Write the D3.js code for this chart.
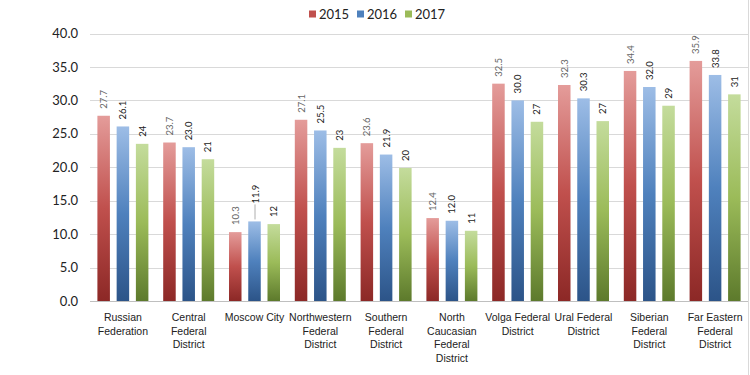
<!DOCTYPE html>
<html>
<head>
<meta charset="utf-8">
<script src="https://cdn.jsdelivr.net/npm/d3@7"></script>
<style>
  body { margin: 0; background: #fff; }
  svg { display: block; font-family: Lato, "Liberation Sans", sans-serif; }
</style>
</head>
<body>
<div id="chart"></div>
<script>
// data
const categories = ["Russian Federation", "Central Federal District", "Moscow City",
  "Northwestern Federal District", "Southern Federal District", "North Caucasian Federal District",
  "Volga Federal District", "Ural Federal District", "Siberian Federal District", "Far Eastern Federal District"];
const categoryLines = [["Russian", "Federation"], ["Central", "Federal", "District"], ["Moscow City"],
  ["Northwestern", "Federal", "District"], ["Southern", "Federal", "District"], ["North", "Caucasian", "Federal", "District"],
  ["Volga Federal", "District"], ["Ural Federal", "District"], ["Siberian", "Federal", "District"], ["Far Eastern", "Federal", "District"]];
const seriesNames = ["2015", "2016", "2017"];
const values2015 = [27.7, 23.7, 10.3, 27.1, 23.6, 12.4, 32.5, 32.3, 34.4, 35.9];
const values2016 = [26.1, 23.0, 11.9, 25.5, 21.9, 12.0, 30.0, 30.3, 32.0, 33.8];
const values2017 = [23.5, 21.2, 11.5, 22.9, 19.9, 10.5, 26.8, 26.9, 29.2, 30.9];
const yTicks = [0, 5, 10, 15, 20, 25, 30, 35, 40];

const width = 750, height = 375;
const colors = {
  "2015": ["#e49c9a", "#c0504d", "#8c2826"],
  "2016": ["#9dbde6", "#4f81bd", "#2c5488"],
  "2017": ["#c4dc9c", "#9bbb59", "#5d7a2c"]
};
const labelFmt = { "2015": d3.format(".1f"), "2016": d3.format(".1f"), "2017": d3.format(".0f") };
const labelColor = { "2015": "#666", "2016": "#222", "2017": "#222" };

const table = [];
categories.forEach((c, i) => {
  table.push({ cat: c, key: "2015", value: values2015[i] });
  table.push({ cat: c, key: "2016", value: values2016[i] });
  table.push({ cat: c, key: "2017", value: values2017[i] });
});

const svg = d3.select("#chart").append("svg").attr("width", width).attr("height", height);

// gradients
const defs = svg.append("defs");
seriesNames.forEach(s => {
  const g = defs.append("linearGradient").attr("id", "grad" + s)
    .attr("x1", 0).attr("y1", 0).attr("x2", 0).attr("y2", 1);
  g.append("stop").attr("offset", "0%").attr("stop-color", colors[s][0]);
  g.append("stop").attr("offset", "50%").attr("stop-color", colors[s][1]);
  g.append("stop").attr("offset", "100%").attr("stop-color", colors[s][2]);
});

const x = d3.scaleBand().domain(categories).range([90, 748]);
const x1 = d3.scaleBand().domain(seriesNames).range([x.bandwidth() / 2 - 25.5, x.bandwidth() / 2 + 25.5]).paddingInner(0.35);
const y = d3.scaleLinear().domain([0, 40]).range([301, 33.5]);

// chart border on right
svg.append("line").attr("x1", 748.5).attr("x2", 748.5).attr("y1", 0).attr("y2", height)
  .attr("stroke", "#d9d9d9");

// grid
svg.append("g").selectAll("line").data(yTicks).join("line")
  .attr("x1", 90).attr("x2", 748)
  .attr("y1", d => Math.round(y(d)) + 0.5).attr("y2", d => Math.round(y(d)) + 0.5)
  .attr("stroke", d => d === 0 ? "#bfbfbf" : "#d9d9d9");

// y axis
const yAxis = svg.append("g").attr("transform", "translate(78,0)")
  .call(d3.axisLeft(y).tickValues(yTicks).tickFormat(d3.format(".1f")).tickSize(0).tickPadding(0));
yAxis.select(".domain").remove();
yAxis.selectAll("text").attr("font-size", 13).attr("fill", "#222").attr("font-family", "Lato, sans-serif");

// x axis
const xAxis = svg.append("g").attr("transform", "translate(0,301)")
  .call(d3.axisBottom(x).tickSize(0).tickFormat(""));
xAxis.select(".domain").remove();
xAxis.selectAll(".tick").each(function (d, i) {
  const t = d3.select(this).append("text").attr("fill", "#222").attr("font-size", 10.5)
    .attr("text-anchor", "middle").attr("y", 20);
  categoryLines[i].forEach((ln, j) => {
    t.append("tspan").attr("x", 0).attr("dy", j === 0 ? 0 : 13.5).text(ln);
  });
});

// bars
const groups = svg.append("g").selectAll("g").data(categories).join("g")
  .attr("transform", d => "translate(" + x(d) + ",0)");

groups.selectAll("rect")
  .data(c => table.filter(r => r.cat === c))
  .join("rect")
  .attr("x", d => x1(d.key))
  .attr("y", d => y(d.value))
  .attr("width", x1.bandwidth())
  .attr("height", d => y(0) - y(d.value))
  .attr("fill", d => "url(#grad" + d.key + ")");

// data labels (Moscow 2016 label is lifted with a leader line)
const lifted = { cat: "Moscow City", key: "2016", lift: 18 };
groups.selectAll("g.lbl")
  .data(c => table.filter(r => r.cat === c))
  .join("g").attr("class", "lbl")
  .each(function (d) {
    const g = d3.select(this);
    const cx = x1(d.key) + x1.bandwidth() / 2;
    let ty = y(d.value) - 7;
    let tx = cx + 3.5;
    if (d.cat === lifted.cat && d.key === lifted.key) {
      const top = y(d.value) - 2;
      ty = y(d.value) - lifted.lift;
      g.append("line").attr("x1", cx + 0.5).attr("x2", cx + 0.5)
        .attr("y1", top).attr("y2", ty + 1).attr("stroke", "#999").attr("stroke-width", 0.8);
      tx = cx + 4.5;
    }
    g.append("text")
      .attr("transform", "translate(" + tx + "," + ty + ") rotate(-90)")
      .attr("font-size", 9.5)
      .attr("fill", labelColor[d.key])
      .text(labelFmt[d.key](d.value));
  });

// legend
const legend = svg.append("g").attr("transform", "translate(309,0)");
seriesNames.forEach((s, i) => {
  const lg = legend.append("g").attr("transform", "translate(" + (i * 48) + ",0)");
  lg.append("rect").attr("x", 0).attr("y", 10.5).attr("width", 7).attr("height", 7).attr("fill", colors[s][1]);
  lg.append("text").attr("x", 10).attr("y", 19).attr("font-size", 13).attr("fill", "#222").text(s);
});
</script>
</body>
</html>
